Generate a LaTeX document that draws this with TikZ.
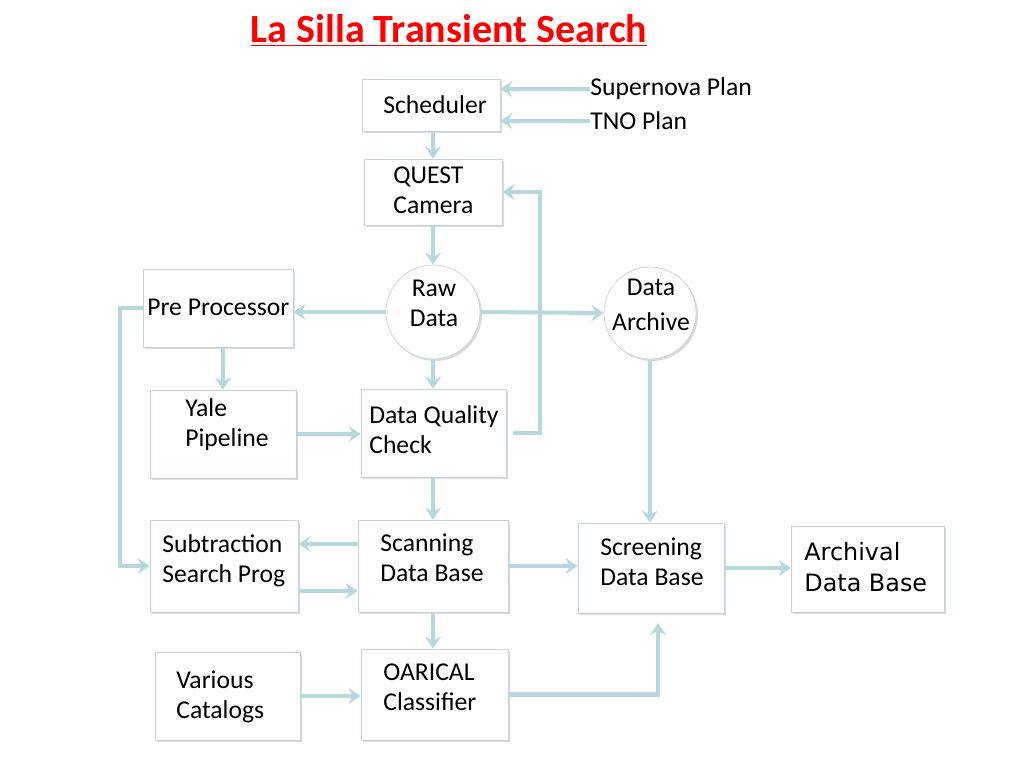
\documentclass[tikz,border=0pt]{standalone}
\usepackage{fontspec}
\setmainfont{Carlito}
\newfontfamily\archfont{DejaVu Sans}
\usetikzlibrary{arrows.meta,shadows}
\definecolor{flowblue}{RGB}{183,216,222}
\definecolor{boxline}{RGB}{196,212,216}
\tikzset{
  box/.style={draw=boxline,thin,fill=white,rectangle,
    drop shadow={opacity=0.3,shadow xshift=0.04cm,shadow yshift=-0.04cm}},
  disk/.style={draw=boxline,thin,fill=white,circle,
    drop shadow={opacity=0.3,shadow xshift=0.04cm,shadow yshift=-0.04cm}},
  txt/.style={anchor=west,inner sep=0pt,align=left,font=\fontsize{14.6}{17}\selectfont},
  flow/.style={draw=flowblue,line width=2.3pt,-{Stealth[length=0.24cm,width=0.32cm,inset=0.08cm]}},
}
\begin{document}
\begin{tikzpicture}[x=0.02cm,y=-0.02cm]
\useasboundingbox (0,0) rectangle (1024,768);
\node[inner sep=0pt,text=red,font=\fontsize{22.8}{26}\selectfont\bfseries] (ttl) at (449,30) {\underline{La Silla Transient Search}};
% boxes
\node[box,minimum width=2.76cm,minimum height=1.04cm] (sched) at (431,105) {};
\node[box,minimum width=2.76cm,minimum height=1.32cm] (quest) at (433,192) {};
\node[disk,minimum size=1.88cm] (raw) at (433,312) {};
\node[disk,minimum size=1.84cm] (arch) at (650,313) {};
\node[box,minimum width=3.0cm,minimum height=1.56cm] (pre) at (218,308) {};
\node[box,minimum width=2.92cm,minimum height=1.76cm] (yale) at (223,434) {};
\node[box,minimum width=2.9cm,minimum height=1.76cm] (dqc) at (433.5,433) {};
\node[box,minimum width=2.96cm,minimum height=1.84cm] (subtr) at (224,566) {};
\node[box,minimum width=3.0cm,minimum height=1.84cm] (scan) at (433,566) {};
\node[box,minimum width=2.92cm,minimum height=1.8cm] (screen) at (651,568) {};
\node[box,minimum width=3.06cm,minimum height=1.72cm] (archival) at (867.5,569) {};
\node[box,minimum width=2.9cm,minimum height=1.76cm] (various) at (227.5,696) {};
\node[box,minimum width=2.94cm,minimum height=1.82cm] (oarical) at (434.5,694.5) {};
% texts
\node[txt] (sched-t) at (383,105) {Scheduler};
\node[txt] (quest-t) at (393,190) {QUEST\\Camera};
\node[txt,anchor=center,align=center] (raw-t) at (434,303) {Raw\\Data};
\node[txt,anchor=center,align=center] (arch-t) at (651,305) {Data\\[0.1cm]Archive};
\node[txt] (pre-t) at (147,307) {Pre Processor};
\node[txt] (yale-t) at (185,425) {Yale\\Pipeline};
\node[txt] (dqc-t) at (369,430) {Data Quality\\Check};
\node[txt] (subtr-t) at (162,561) {Subtraction\\Search Prog};
\node[txt] (scan-t) at (380,558) {Scanning\\Data Base};
\node[txt] (screen-t) at (600,562) {Screening\\Data Base};
\node[txt,font=\archfont\fontsize{13.6}{17.5}\selectfont] (archival-t) at (804,567) {Archival\\Data Base};
\node[txt] (various-t) at (176,697) {Various\\Catalogs};
\node[txt] (oarical-t) at (383,687) {OARICAL\\Classifier};
\node[txt] (sn) at (590,89) {Supernova Plan};
\node[txt] (tno) at (590,121) {TNO Plan};
\coordinate (scr-in) at (658,623);
% arrows
\draw[flow] (sn.west) -- (sn.west -| sched.east);
\draw[flow] (tno.west) -- (tno.west -| sched.east);
\draw[flow] (quest.north |- sched.south) -- (quest.north);
\draw[flow] (quest.south) -- (raw.north);
\draw[flow] (raw.west) -- (raw.west -| pre.east);
\draw[flow] (raw.east) -- (arch.west);
\draw[flow] (raw.south) -- (raw.south |- dqc.north);
\draw[flow] ([xshift=0.14cm]dqc.east) -- ++(27,0) |- (quest.east);
\draw[flow] (pre.south -| yale.north) -- (yale.north);
\draw[flow] (pre.west) -- ++(-23,0) |- (subtr.west);
\draw[flow] (yale.east) -- (yale.east -| dqc.west);
\draw[flow] (scan.north |- dqc.south) -- (scan.north);
\draw[flow] ([yshift=0.44cm]scan.west) -- ([yshift=0.44cm]subtr.east);
\draw[flow] ([yshift=-0.5cm]subtr.east) -- ([yshift=-0.5cm]scan.west);
\draw[flow] (scan.east) -- (scan.east -| screen.west);
\draw[flow] (arch.south) -- (arch.south |- screen.north);
\draw[flow] (screen.east) -- (screen.east -| archival.west);
\draw[flow] (scan.south) -- (scan.south |- oarical.north);
\draw[flow] (various.east) -- (various.east -| oarical.west);
\draw[flow] (oarical.east) -| (scr-in);
\end{tikzpicture}
\end{document}
